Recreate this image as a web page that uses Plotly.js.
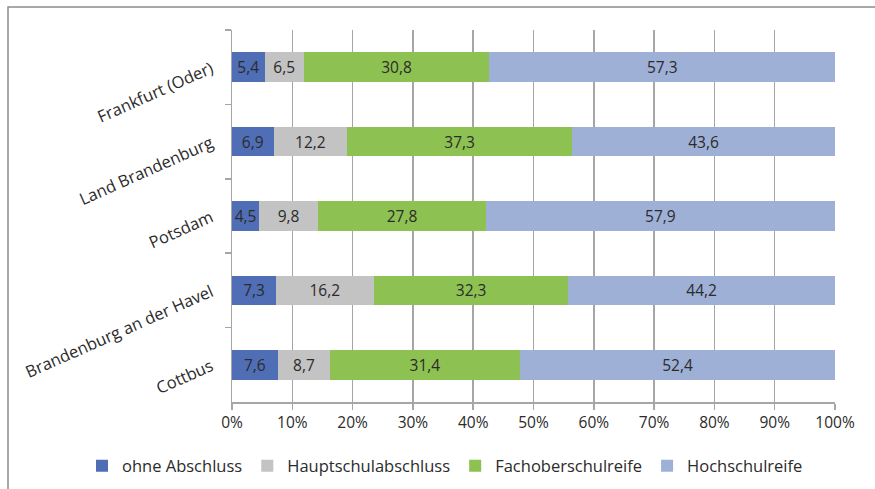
<!DOCTYPE html>
<html>
<head>
<meta charset="utf-8">
<script src="https://cdn.plot.ly/plotly-3.0.1.min.js"></script>
<style>html,body{margin:0;padding:0;background:#fff}#chart{width:875px;height:489px}</style>
</head>
<body>
<div id="chart"></div>
<script>
const categories = ["Frankfurt (Oder)", "Land Brandenburg", "Potsdam", "Brandenburg an der Havel", "Cottbus"];
const seriesNames = ["ohne Abschluss", "Hauptschulabschluss", "Fachoberschulreife", "Hochschulreife"];
const ohneAbschluss = [5.4, 6.9, 4.5, 7.3, 7.6];
const hauptschulabschluss = [6.5, 12.2, 9.8, 16.2, 8.7];
const fachoberschulreife = [30.8, 37.3, 27.8, 32.3, 31.4];
const hochschulreife = [57.3, 43.6, 57.9, 44.2, 52.4];
const colors = ["#4f6eb6", "#c3c3c3", "#8dc152", "#9eb0d6"];
const xTickVals = [0,10,20,30,40,50,60,70,80,90,100];

const seriesValues = [ohneAbschluss, hauptschulabschluss, fachoberschulreife, hochschulreife];
const fmt = v => v.toFixed(1).replace('.', ',');
const traces = seriesValues.map((vals, i) => ({
  type: 'bar',
  orientation: 'h',
  name: seriesNames[i],
  y: categories,
  x: vals,
  text: vals.map(fmt),
  textposition: 'inside',
  insidetextanchor: 'middle',
  constraintext: 'none',
  textangle: 0,
  textfont: {size: 15.5, color: '#2b2b2b', family: 'Open Sans, sans-serif'},
  marker: {color: colors[i], line: {width: 0}},
  hoverinfo: 'none'
}));

const W = 603, H = 372, L = 232, T = 30;
const px = x => (x - L) / W;
const py = y => (T + H - y) / H;

const layout = {
  width: 875, height: 489,
  margin: {l: L, r: 875 - L - W, t: T, b: 489 - T - H, autoexpand: false},
  barmode: 'stack',
  bargap: 0.6,
  paper_bgcolor: '#fff', plot_bgcolor: '#fff',
  font: {family: 'Open Sans, sans-serif', size: 15, color: '#2b2b2b'},
  showlegend: true,
  legend: {orientation: 'h', traceorder: 'normal', xref: 'paper', x: px(82), xanchor: 'left',
           y: py(466), yanchor: 'middle', font: {size: 16.5, color: '#2b2b2b'}, itemwidth: 30},
  xaxis: {range: [0, 100], tickvals: xTickVals, ticktext: xTickVals.map(v => v + '%'), tickangle: 0,
          automargin: false,
          showgrid: true, gridcolor: '#a6a6a6', gridwidth: 1.5, zeroline: false,
          showline: true, linecolor: '#a6a6a6', linewidth: 1.5,
          ticks: 'outside', ticklen: 6, tickcolor: '#a6a6a6', tickwidth: 1.5,
          tickfont: {size: 15.5, color: '#2b2b2b'}, fixedrange: true},
  yaxis: {type: 'category', autorange: 'reversed', showgrid: false, zeroline: false, automargin: false,
          showline: true, linecolor: '#a6a6a6', linewidth: 1.5,
          ticks: 'outside', tickson: 'boundaries', ticklen: 6, tickcolor: '#a6a6a6', tickwidth: 1.5,
          tickangle: -24, ticklabelstandoff: 16, tickfont: {size: 16.5, color: '#2b2b2b'}, fixedrange: true},
  shapes: [{type: 'rect', xref: 'paper', yref: 'paper', x0: px(8), x1: px(880), y0: py(495), y1: py(7),
            line: {color: '#8c8c8c', width: 1.5}, fillcolor: 'rgba(0,0,0,0)', layer: 'below'}]
};

Plotly.newPlot('chart', traces, layout, {displayModeBar: false, staticPlot: true});
</script>
</body>
</html>
